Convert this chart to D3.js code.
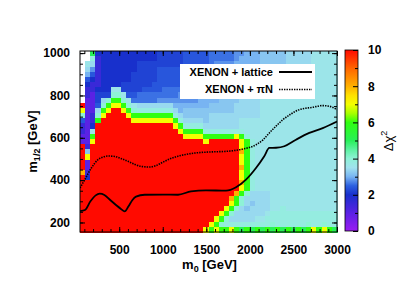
<!DOCTYPE html>
<html>
<head>
<meta charset="utf-8">
<script src="https://cdn.jsdelivr.net/npm/d3@7"></script>
<style>
body { margin: 0; background: #fff; }
text { font-family: "Liberation Sans", Arial, sans-serif; }
</style>
</head>
<body>
<script>
// Δχ² grid over the (m0, m1/2) plane
const m0Range = [50, 3000];
const m12Range = [155, 1010];

// one char per cell, top row first; '.' = no point
const levelChars = "abcdefghijklmnopqrstu";
const levelValues = [0, 1, 1.5, 2, 2.2, 2.4, 2.6, 2.8, 3.0, 3.2, 3.4, 3.6, 3.8, 4, 4.5, 5, 6, 7, 8, 9, 10];
const gridRows = [
  "..p ddddddd ddddd eeeee fffff ggggg hhiii jjjjj kkkkk lllll",
  "..m cdddddd ddddd eeeee fffff ggggg hiiii jjjjj kkkkk lllll",
  ".lk cdddddd deeee eeeee fffff ghhhh iiiii jjjjj kkkkk lllll",
  ".kh cdddddd deeee fffff ggggg hhhhh iiiii jjjjj kkkkk lllll",
  ".if cdddddd eeeee fffff ggggg hhhhh iiiij jkkkk lllll lllll",
  ".fd cdddddd eeeee fffff ggggg hiiii jjjjj kkkkk lllll lllll",
  ".dc cddddee eeeef fffff ghhhh iiiii jjjjj kkkkk lllll lllll",
  ".cc dddllee eefff fgggg hhhhh iiiii jjjjj kkkkk lllll lllll",
  ".cb eeennlf fgggg ggggh hhhhh iiiii jjjkk kllll lllll lllll",
  ".bb eknqqnl ggggg hhhhh hhhii iijjj jkkkk lllll lllll lllll",
  "ubb fnqrrqn lkkkk kkkii iiiii jjjjj kkkkk lllll lllll lllll",
  "rbb kqruurq nmmmm mmmki jjjjj jjjjj kkkkk lllll lllll lllll",
  "nbc nruuuur qqqqq qqqmk jjjjj kkkkk kkkkk lllll lllll lllll",
  "fbc quuuuuu rrrrr rrrqm kkkkj kkkkk kllll lllll lllll lllll",
  "cbd uuuuuuu uuuuu uuurq mmmmk kkkkk kllll lllll lllll lllll",
  "cbl uuuuuuu uuuuu uuuur qqqqm mmmmm mmlll lllll lllll lllll",
  "bbq uuuuuuu uuuuu uuuuu rrrrq qqqqq rqnll lllll lllll lllll",
  "bbr uuuuuuu uuuuu uuuuu uuuur uuuuu urqml lllll lllll lllll",
  "ucu uuuuuuu uuuuu uuuuu uuuuu uuuuu urqml lllll lllll lllll",
  "uju uuuuuuu uuuuu uuuuu uuuuu uuuuu usqml lllll lllll lllll",
  "uru uuuuuuu uuuuu uuuuu uuuuu uuuuu urqml lllll lllll lllll",
  "ubu uuuuuuu uuuuu uuuuu uuuuu uuuuu urqml lllll lllll lllll",
  "ubu uuuuuuu uuuuu uuuuu uuuuu uuuuu usqml lllll lllll lllll",
  "scu uuuuuuu uuuuu uuuuu uuuuu uuuuu urqml lllll lllll lllll",
  "udu uuuuuuu uuuuu uuuuu uuuuu uuuuu urqml lllll lllll lllll",
  "uuu uuuuuuu uuuuu uuuuu uuuuu uuuuu usqml lllll lllll lllll",
  "uuu uuuuuuu uuuuu uuuuu uuuuu uuuuu urqml lllll lllll lllll",
  "uuu uuuuuuu uuuuu uuuuu uuuuu uuuuu sqnkk kklll lllll lllll",
  "uuu uuuuuuu uuuuu uuuuu uuuuu uuuus qnkkk kklll lllll lllll",
  "uuu uuuuuuu uuuuu uuuuu uuuuu uuuur qnkjk kklll lllll lllll",
  "uuu uuuuuuu uuuuu uuuuu uuuuu uuurq nkjkk kkllm lllll lllll",
  "uuu uuuuuuu uuuuu uuuuu uuuuu uurqn kkkkk klmmm mmmmm mmmmm",
  "uuu uuuuuuu uuuuu uuuuu uuuuu urqnk kkkkl lmmmm mmmmm mmmmm",
  "uuu uuuuuuu uuuuu uuuuu uuuuu rqnmm mmmmm mmnmm mmmmn mmnmm",
  "uuu uuuuuuu uuuuu uuuuu uuuur qrqqr qpqpq pqpqp qpqpq rqrqp"
];

// palette of the colour box
const paletteStops = [0, 1, 2, 2.5, 3, 3.5, 4, 4.5, 5, 6, 6.5, 7, 7.5, 8, 9, 10];
const paletteColors = ["#9a1cf2", "#5a22e4", "#1830cc", "#2c60e0", "#78b4f2", "#a0e2ee",
  "#8ef2d6", "#5cf2a0", "#28f058", "#30ff10", "#a8ff00", "#f4ff00", "#ffe000", "#ffb000",
  "#ff6400", "#ff0a00"];

// exclusion curves
const latticeM0 = [50, 107, 170, 230, 276, 330, 400, 470, 520, 563, 605, 650, 693, 793, 1000, 1175,
  1324, 1496, 1726, 1841, 1955, 2070, 2165, 2223, 2300, 2395, 2529, 2682, 2836, 3000];
const latticeM12 = [254, 259, 300, 328, 336, 330, 305, 280, 264, 252, 275, 305, 322, 331, 332, 331,
  347, 352, 350, 366, 402, 457, 513, 552, 553, 560, 591, 623, 646, 677];
const piNM0 = [50, 104, 180, 257, 320, 371, 448, 520, 601, 680, 754, 850, 920, 983, 1080, 1175,
  1367, 1539, 1726, 1918, 2070, 2150, 2223, 2300, 2377, 2470, 2567, 2721, 2836, 2912, 3000];
const piNM12 = [363, 402, 457, 497, 510, 514, 512, 502, 489, 474, 465, 462, 468, 481, 500, 513,
  528, 533, 536, 547, 567, 590, 623, 655, 685, 712, 733, 744, 752, 749, 733];

const xTicks = [500, 1000, 1500, 2000, 2500, 3000];
const yTicks = [200, 400, 600, 800, 1000];
const cbTicks = [0, 2, 4, 6, 8, 10];

const W = 419, H = 293;
const pLeft = 80, pRight = 337, pTop = 51, pBottom = 232;

const svg = d3.select("body").append("svg")
    .attr("width", W)
    .attr("height", H);

const x = d3.scaleLinear().domain(m0Range).range([pLeft, pRight]);
const y = d3.scaleLinear().domain(m12Range).range([pBottom, pTop]);
const color = d3.scaleLinear().domain(paletteStops).range(paletteColors).clamp(true);
const fmt = d3.format("d");

// cells
const rows = gridRows.map(r => r.replace(/ /g, ""));
const nCols = d3.max(rows, r => r.length);
const nRows = rows.length;
const dm0 = (m0Range[1] - m0Range[0]) / nCols;
const dm12 = (m12Range[1] - m12Range[0]) / nRows;
const cells = [];
rows.forEach((row, r) => {
  for (let c = 0; c < row.length; c++) {
    const k = levelChars.indexOf(row[c]);
    if (k < 0) continue;
    cells.push({
      m0a: m0Range[0] + c * dm0, m0b: m0Range[0] + (c + 1) * dm0,
      m12a: m12Range[1] - (r + 1) * dm12, m12b: m12Range[1] - r * dm12,
      v: levelValues[k]
    });
  }
});

svg.append("g")
  .selectAll("rect")
  .data(cells)
  .enter()
  .append("rect")
    .attr("x", d => x(d.m0a))
    .attr("y", d => y(d.m12b))
    .attr("width", d => x(d.m0b) - x(d.m0a) + 0.5)
    .attr("height", d => y(d.m12a) - y(d.m12b) + 0.5)
    .attr("fill", d => color(d.v))
    .attr("shape-rendering", "crispEdges");

// curves, clipped to the frame
svg.append("clipPath").attr("id", "plotclip")
  .append("rect").attr("x", pLeft).attr("y", pTop).attr("width", pRight - pLeft).attr("height", pBottom - pTop);

const line = d3.line()
    .x(d => x(d[0]))
    .y(d => y(d[1]))
    .curve(d3.curveMonotoneX);

svg.append("path")
    .datum(d3.zip(latticeM0, latticeM12))
    .attr("d", line)
    .attr("clip-path", "url(#plotclip)")
    .attr("fill", "none")
    .attr("stroke", "#000")
    .attr("stroke-width", 1.8);

svg.append("path")
    .datum(d3.zip(piNM0, piNM12))
    .attr("d", line)
    .attr("clip-path", "url(#plotclip)")
    .attr("fill", "none")
    .attr("stroke", "#000")
    .attr("stroke-width", 1.6)
    .attr("stroke-dasharray", "1.4,1.1");

// axes, ticks pointing inwards on all four sides
function styleAxis(g) {
  g.select(".domain").remove();
  g.attr("font-family", "Liberation Sans, Arial, sans-serif")
   .attr("font-size", 12)
   .attr("font-weight", "bold");
  g.selectAll("line").attr("stroke", "#000");
}
const xMinor = d3.range(100, 3001, 100);
const yMinor = d3.range(200, 1001, 50);

svg.append("g").attr("transform", `translate(0,${pBottom})`)
  .call(d3.axisBottom(x).tickValues(xMinor).tickSizeInner(-3).tickSizeOuter(0).tickFormat(""))
  .call(styleAxis);
svg.append("g").attr("transform", `translate(0,${pBottom})`)
  .call(d3.axisBottom(x).tickValues(xTicks).tickSizeInner(-5).tickSizeOuter(0).tickPadding(13).tickFormat(fmt))
  .call(styleAxis);
svg.append("g").attr("transform", `translate(0,${pTop})`)
  .call(d3.axisTop(x).tickValues(xMinor).tickSizeInner(-3).tickSizeOuter(0).tickFormat(""))
  .call(styleAxis);
svg.append("g").attr("transform", `translate(0,${pTop})`)
  .call(d3.axisTop(x).tickValues(xTicks).tickSizeInner(-5).tickSizeOuter(0).tickFormat(""))
  .call(styleAxis);

svg.append("g").attr("transform", `translate(${pLeft},0)`)
  .call(d3.axisLeft(y).tickValues(yMinor).tickSizeInner(-3).tickSizeOuter(0).tickFormat(""))
  .call(styleAxis);
svg.append("g").attr("transform", `translate(${pLeft},0)`)
  .call(d3.axisLeft(y).tickValues(yTicks).tickSizeInner(-5).tickSizeOuter(0).tickPadding(10).tickFormat(fmt))
  .call(styleAxis);
svg.append("g").attr("transform", `translate(${pRight},0)`)
  .call(d3.axisRight(y).tickValues(yMinor).tickSizeInner(-3).tickSizeOuter(0).tickFormat(""))
  .call(styleAxis);
svg.append("g").attr("transform", `translate(${pRight},0)`)
  .call(d3.axisRight(y).tickValues(yTicks).tickSizeInner(-5).tickSizeOuter(0).tickFormat(""))
  .call(styleAxis);

svg.append("rect")
    .attr("x", pLeft).attr("y", pTop)
    .attr("width", pRight - pLeft).attr("height", pBottom - pTop)
    .attr("fill", "none").attr("stroke", "#000").attr("stroke-width", 1);

// axis titles
const xt = svg.append("text")
    .attr("x", (pLeft + pRight) / 2 + 1).attr("y", 269)
    .attr("text-anchor", "middle")
    .attr("font-size", 13).attr("font-weight", "bold");
xt.append("tspan").text("m");
xt.append("tspan").attr("font-size", 9).attr("dy", 3).text("0");
xt.append("tspan").attr("dy", -3).text(" [GeV]");

const yt = svg.append("text")
    .attr("transform", `translate(37,${(pTop + pBottom) / 2}) rotate(-90)`)
    .attr("text-anchor", "middle")
    .attr("font-size", 13).attr("font-weight", "bold");
yt.append("tspan").text("m");
yt.append("tspan").attr("font-size", 9).attr("dy", 3).text("1/2");
yt.append("tspan").attr("dy", -3).text(" [GeV]");

// legend
const lg = svg.append("g");
lg.append("rect")
    .attr("x", 180).attr("y", 64).attr("width", 135).attr("height", 35)
    .attr("fill", "#fff");
lg.append("text").attr("x", 273).attr("y", 75.5)
    .attr("text-anchor", "end").attr("font-size", 11).attr("font-weight", "bold")
    .text("XENON + lattice");
lg.append("line").attr("x1", 279).attr("x2", 312).attr("y1", 72).attr("y2", 72)
    .attr("stroke", "#000").attr("stroke-width", 1.8);
lg.append("text").attr("x", 273).attr("y", 93)
    .attr("text-anchor", "end").attr("font-size", 11).attr("font-weight", "bold")
    .text("XENON + πN");
lg.append("line").attr("x1", 279).attr("x2", 312).attr("y1", 89.5).attr("y2", 89.5)
    .attr("stroke", "#000").attr("stroke-width", 1.6).attr("stroke-dasharray", "1.4,1.1");

// colour box
const cbX = 345, cbW = 13;
const cb = d3.scaleLinear().domain([0, 10]).range([231, 50]);
const grad = svg.append("defs").append("linearGradient")
    .attr("id", "cbgrad")
    .attr("x1", 0).attr("y1", 1).attr("x2", 0).attr("y2", 0);
grad.selectAll("stop")
  .data(paletteStops)
  .enter()
  .append("stop")
    .attr("offset", d => d / 10)
    .attr("stop-color", d => color(d));
svg.append("rect")
    .attr("x", cbX).attr("y", cb(10))
    .attr("width", cbW).attr("height", cb(0) - cb(10))
    .attr("fill", "url(#cbgrad)")
    .attr("stroke", "#000").attr("stroke-width", 0.8);

svg.append("g").attr("transform", `translate(${cbX + cbW},0)`)
  .call(d3.axisLeft(cb).tickValues(d3.range(1, 10, 2)).tickSizeInner(3).tickSizeOuter(0).tickFormat(""))
  .call(styleAxis);
svg.append("g").attr("transform", `translate(${cbX + cbW},0)`)
  .call(d3.axisRight(cb).tickValues(cbTicks).tickSizeInner(-5).tickSizeOuter(0).tickPadding(10).tickFormat(fmt))
  .call(styleAxis);

const ct = svg.append("text")
    .attr("transform", `translate(393,141) rotate(-90)`)
    .attr("text-anchor", "middle")
    .attr("font-size", 13);
ct.append("tspan").text("Δχ");
ct.append("tspan").attr("font-size", 9).attr("dy", -6).text("2");
</script>
</body>
</html>
